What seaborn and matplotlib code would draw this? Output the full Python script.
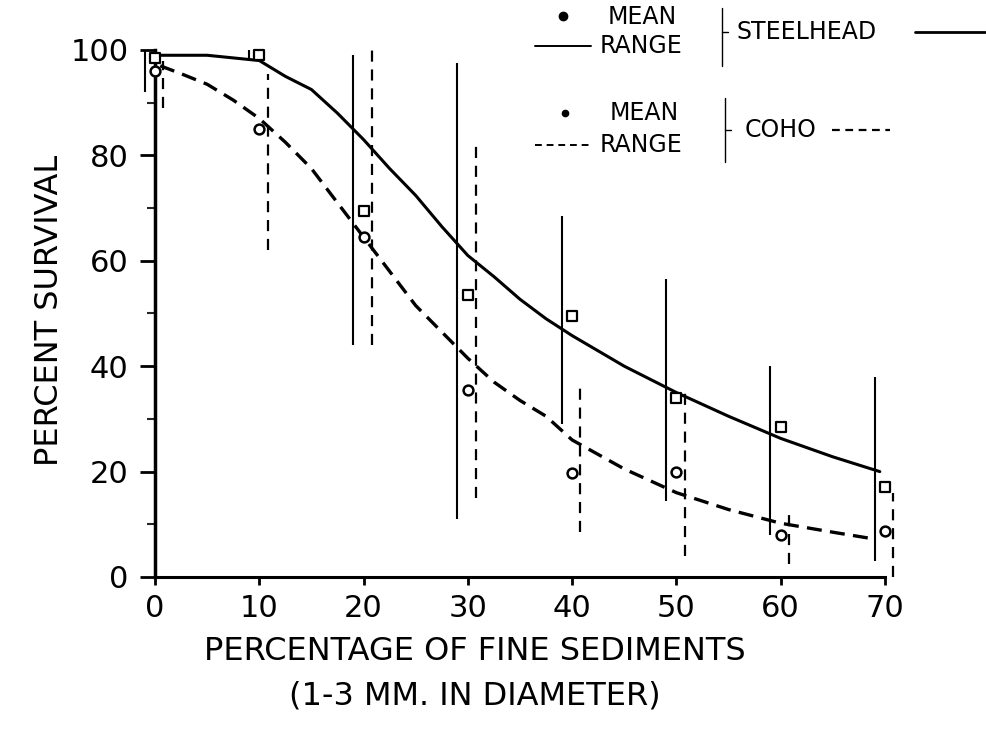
import matplotlib
matplotlib.use("Agg")
import matplotlib.pyplot as plt
from matplotlib.lines import Line2D
import seaborn as sns
import pandas as pd

# ---- data ----
sediment = [0, 10, 20, 30, 40, 50, 60, 70]
steel_mean = [98.5, 99, 69.5, 53.5, 49.5, 34, 28.5, 17]
steel_low = [92, 98, 44, 11, 29, 14.5, 8, 3]
steel_high = [100, 100, 99, 97.5, 68.5, 56.5, 40, 38]
coho_mean = [96, 85, 64.5, 35.5, 19.7, 20, 8, 8.8]
coho_low = [89, 62, 44, 15, 8.5, 4, 2.5, 0]
coho_high = [98, 95.5, 100, 82, 36, 35.5, 12, 16]

steel_curve_x = [0, 5, 10, 12.5, 15, 17.5, 20, 22.5, 25, 27.5, 30, 32.5, 35, 37.5, 40, 45, 50, 55, 60, 65, 69.5]
steel_curve_y = [99, 99, 98, 95, 92.5, 88, 83, 77.5, 72.4, 66.5, 61, 57, 52.7, 49, 45.8, 40, 35, 30.5, 26.3, 22.8, 20]
coho_curve_x = [0.5, 2.5, 5, 7.5, 10, 12.5, 15, 17.5, 20, 22.5, 25, 27.5, 30, 32.5, 35, 37.5, 40, 45, 50, 55, 60, 65, 69]
coho_curve_y = [97, 95.5, 93.5, 90.5, 87, 82.5, 77.5, 71, 64.5, 58, 51.5, 46.5, 41.5, 37, 33.5, 30.5, 26, 20.5, 16, 12.8, 10.2, 8.5, 7.2]

x_ticks = [0, 10, 20, 30, 40, 50, 60, 70]
y_ticks = [0, 20, 40, 60, 80, 100]

sns.set_theme(style="ticks")
plt.rcParams['font.family'] = ['DejaVu Sans']
plt.rcParams['text.color'] = 'black'

W, H = 987, 736
fig = plt.figure(figsize=(W / 100, H / 100), dpi=100)
ax = fig.add_axes([155 / W, 1 - 577 / H, 730 / W, (577 - 50) / H])

steel_df = pd.DataFrame({"x": steel_curve_x, "y": steel_curve_y})
coho_df = pd.DataFrame({"x": coho_curve_x, "y": coho_curve_y})

sns.lineplot(data=steel_df, x="x", y="y", ax=ax, color="black", lw=2.2, sort=False)
sns.lineplot(data=coho_df, x="x", y="y", ax=ax, color="black", lw=2.4, sort=False,
             dashes=False)
ax.lines[-1].set_dashes((4.5, 2.5))

# ranges
steel_rx = [v - 1.0 for v in sediment]
coho_rx = [v + 0.8 for v in sediment]
ax.vlines(steel_rx, steel_low, steel_high, colors="black", lw=1.5, clip_on=False)
ax.vlines(coho_rx, coho_low, coho_high, colors="black", lw=1.6,
          linestyles=(0, (5, 3.5)), clip_on=False)

# means
sns.scatterplot(x=sediment, y=steel_mean, ax=ax, marker="s", s=45, color="white",
                edgecolor="black", linewidth=1.6, clip_on=False, zorder=5)
sns.scatterplot(x=sediment, y=coho_mean, ax=ax, marker="o", s=50, color="white",
                edgecolor="black", linewidth=1.8, clip_on=False, zorder=5)

ax.set_xlim(0, 70)
ax.set_ylim(0, 100)
ax.set_xticks(x_ticks)
ax.set_xticklabels([str(v) for v in x_ticks])
ax.set_yticks(y_ticks)
ax.set_yticklabels([str(v) for v in y_ticks])
ax.set_yticks([10, 30, 50, 70, 90], minor=True)
ax.tick_params(axis="y", which="major", length=11, width=2, labelsize=22, pad=8, color="black", labelcolor="black")
ax.tick_params(axis="y", which="minor", length=6, width=1.5, left=True)
ax.tick_params(axis="x", which="major", length=6, width=2, labelsize=22, pad=6, color="black", labelcolor="black")
ax.set_xlabel("")
ax.set_ylabel("")
sns.despine(ax=ax)
ax.spines["left"].set_linewidth(2.5)
ax.spines["bottom"].set_linewidth(2.2)
ax.spines["left"].set_color("black")
ax.spines["bottom"].set_color("black")
ax.set_facecolor("white")

# axis titles
fig.text(50 / W, 1 - 310 / H, "PERCENT SURVIVAL", rotation=90, ha="center", va="center",
         fontsize=23, color="black")
fig.text(475 / W, 1 - 651 / H, "PERCENTAGE OF FINE SEDIMENTS", ha="center", va="center",
         fontsize=23, color="black")
fig.text(475 / W, 1 - 696 / H, "(1-3 MM. IN DIAMETER)", ha="center", va="center",
         fontsize=23, color="black")

# legend drawn as text block
def fx(px):
    return px / W

def fy(py):
    return 1 - py / H

def seg(x0, x1, y0, y1, **kw):
    fig.add_artist(Line2D([fx(x0), fx(x1)], [fy(y0), fy(y1)], transform=fig.transFigure,
                          color="black", **kw))

lfs = 17
# steelhead block
fig.add_artist(Line2D([fx(563)], [fy(16)], transform=fig.transFigure, marker="o",
                      markersize=6, color="black", linestyle="none"))
fig.text(fx(608), fy(17), "MEAN", ha="left", va="center", fontsize=lfs, color="black")
seg(535, 591, 46, 46, lw=1.4)
fig.text(fx(600), fy(46), "RANGE", ha="left", va="center", fontsize=lfs, color="black")
seg(722, 722, 8, 66, lw=1.0)
seg(722, 728, 32, 32, lw=1.0)
fig.text(fx(736), fy(32), "STEELHEAD", ha="left", va="center", fontsize=lfs, color="black")
seg(915, 985, 32, 32, lw=2.0)

# coho block
fig.add_artist(Line2D([fx(565)], [fy(113)], transform=fig.transFigure, marker="o",
                      markersize=4.5, color="black", linestyle="none"))
fig.text(fx(610), fy(113), "MEAN", ha="left", va="center", fontsize=lfs, color="black")
seg(535, 591, 145, 145, lw=1.4, linestyle=(0, (3.5, 2.5)))
fig.text(fx(600), fy(145), "RANGE", ha="left", va="center", fontsize=lfs, color="black")
seg(725, 725, 98, 162, lw=1.0)
seg(725, 731, 130, 130, lw=1.0)
fig.text(fx(745), fy(130), "COHO", ha="left", va="center", fontsize=lfs, color="black")
seg(832, 890, 130, 130, lw=1.6, linestyle=(0, (3.5, 2.5)))

fig.patch.set_facecolor("white")
fig.savefig("out.png", dpi=100, facecolor="white")
